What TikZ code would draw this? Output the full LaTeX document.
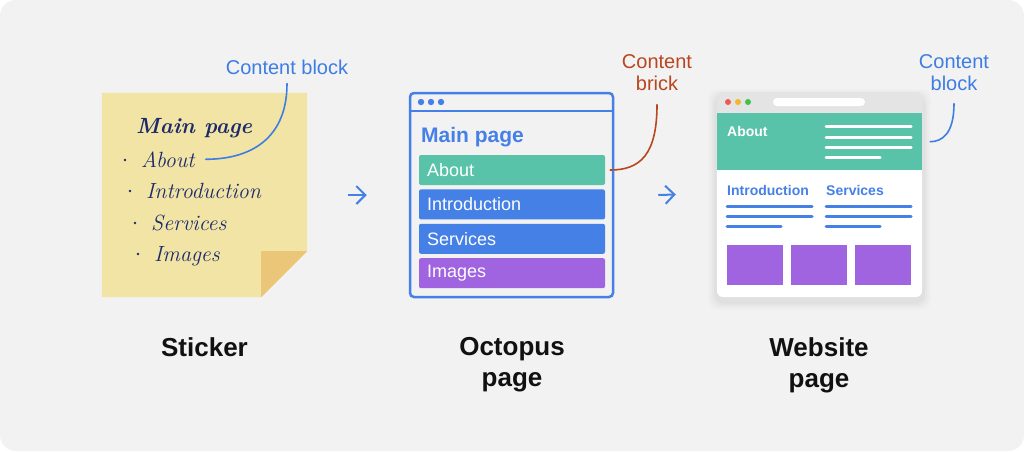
\documentclass[tikz,border=0pt]{standalone}
\usepackage{fontspec}
\setsansfont{Liberation Sans}
\usetikzlibrary{positioning,arrows.meta,calc}
\usepackage{xcolor}
\definecolor{bgGray}{HTML}{F2F2F2}
\definecolor{stickY}{HTML}{F1E4A4}
\definecolor{foldY}{HTML}{ECC678}
\definecolor{ink}{HTML}{1C2A6C}
\definecolor{linkBlue}{HTML}{3E7DE3}
\definecolor{brickRed}{HTML}{B8461E}
\definecolor{aboutTeal}{HTML}{58C3A9}
\definecolor{secBlue}{HTML}{4580E6}
\definecolor{imgPurple}{HTML}{A064E0}
\definecolor{barGray}{HTML}{E4E4E4}
\definecolor{capInk}{HTML}{111111}
\definecolor{dotRed}{HTML}{EE5A52}
\definecolor{dotYellow}{HTML}{F2B52E}
\definecolor{dotGreen}{HTML}{3EC24B}
\newcommand{\setfs}[2]{\fontsize{#1}{#2}\selectfont}

\begin{document}
\begin{tikzpicture}[x=1pt, y=-1pt,
  hand/.style={font=\itshape\setfs{22}{22}, text=ink, inner sep=0pt},
  callout/.style={font=\sffamily\setfs{20}{22}, align=center, inner sep=0pt},
  curl/.style={line width=1.6pt, line cap=round},
  flow/.style={-{Straight Barb[length=9pt,width=18pt,line width=2pt]}, line width=2pt, color=secBlue},
  brick/.style={rounded corners=2pt, minimum width=186pt, minimum height=30pt, text width=170pt,
                inner xsep=8pt, align=left, font=\sffamily\setfs{18}{18}, text=white},
  webtxt/.style={font=\sffamily\bfseries\setfs{14}{14}, inner sep=0pt, anchor=base west},
  wline/.style={line width=3pt, line cap=round},
  caption/.style={font=\sffamily\bfseries\setfs{26}{31}, text=capInk, align=center, inner sep=0pt, anchor=north}
]
\useasboundingbox (0,0) rectangle (1024,451);
\fill[white] (0,0) rectangle (1024,451);
\fill[bgGray, rounded corners=16pt] (0,0) rectangle (1024,451);

% sticker
\node[minimum width=205pt, minimum height=204pt, inner sep=0pt] (sticker) at (204.5,195) {};
\fill[stickY] (sticker.north west) -- (sticker.north east) -- ([yshift=46pt]sticker.south east)
  -- ([xshift=-46pt]sticker.south east) -- (sticker.south west) -- cycle;
\fill[foldY] ([yshift=46pt]sticker.south east) -- ([xshift=-46pt,yshift=46pt]sticker.south east)
  -- ([xshift=-46pt]sticker.south east) -- cycle;
\node[hand, font=\bfseries\itshape\setfs{22}{22}, anchor=base west] (hTitle) at (136,133) {Main page};
\foreach \txt/\bx/\by/\nm in {About/141/167/hAbout, Introduction/146/198/hIntro,
                              Services/151/230/hServ, Images/154/261/hImg} {
  \node[hand, anchor=base west] (\nm) at (\bx,\by) {\txt};
  \fill[ink] ([xshift=-16pt,yshift=7pt]\nm.base west) circle (1.4pt);
}
\node[callout, text=linkBlue] (cblock1) at (287,67) {Content block};
\draw[curl, linkBlue] ([yshift=-9pt]cblock1.south) .. controls +(0,55) and +(45,0) .. ([xshift=11pt]hAbout.east);

% octopus page
\node[draw=secBlue, line width=2.5pt, rounded corners=4pt, minimum width=203pt, minimum height=204pt,
      inner sep=0pt] (octo) at (511.5,195) {};
\draw[secBlue, line width=2.5pt] (octo.north west |- 0,111) -- (octo.north east |- 0,111);
\foreach \x in {421,431,441} \fill[secBlue] (\x,102) circle (3.2pt);
\node[font=\sffamily\bfseries\setfs{21}{21}, text=secBlue, inner sep=0pt, anchor=base west] (oTitle) at (421,142) {Main page};
\node[brick, fill=aboutTeal] (about) at (512,170) {About};
\node[brick, fill=secBlue, below=4pt of about] (intro) {Introduction};
\node[brick, fill=secBlue, below=4pt of intro] (serv) {Services};
\node[brick, fill=imgPurple, below=4pt of serv] (imgs) {Images};
\node[callout, text=brickRed, anchor=north] (cbrick) at (657,54) {Content\\brick};
\draw[curl, brickRed] ([yshift=-14pt]cbrick.south) .. controls +(0,50) and +(30,0) .. ([xshift=5pt]about.east);

% website page
\foreach \s/\o in {9/0.012,7/0.015,5/0.018,3/0.022}
  \fill[black, opacity=\o, rounded corners=10pt] (717-\s,92-\s+6) rectangle (922+\s,297+\s+4);
\node[fill=white, rounded corners=6pt, minimum width=205pt, minimum height=205pt, inner sep=0pt] (web) at (819.5,194.5) {};
\fill[barGray, rounded corners=6pt] (web.north west) rectangle ([yshift=-27pt]web.north east);
\foreach \x/\c in {728/dotRed,738/dotYellow,748/dotGreen} \fill[\c] (\x,102) circle (3pt);
\fill[white, rounded corners=4pt] (773,98) rectangle (865,106);
\node[fill=aboutTeal, minimum width=205pt, minimum height=57pt, inner sep=0pt, anchor=north] (whead) at (819.5,113) {};
\node[webtxt, text=white] (wAbout) at (727,136) {About};
\foreach \y in {126,137,147} \draw[wline, white] (826,\y) -- (911,\y);
\draw[wline, white] (826,157) -- (880,157);
\node[webtxt, text=secBlue] (wIntro) at (727,195) {Introduction};
\node[webtxt, text=secBlue] (wServ) at (826,195) {Services};
\foreach \x in {727,826} {
  \draw[wline, secBlue] (\x,206) -- (\x+85,206);
  \draw[wline, secBlue] (\x,216) -- (\x+85,216);
  \draw[wline, secBlue] (\x,226) -- (\x+54,226);
}
\foreach \x in {727,791,855} \fill[imgPurple] (\x,245) rectangle ++(56,40);
\node[callout, text=linkBlue, anchor=north] (cblock2) at (954,54) {Content\\block};
\draw[curl, linkBlue] ([yshift=-13pt]cblock2.south) .. controls +(0,30) and +(12,0) .. ([xshift=8pt]whead.east);

% arrows
\draw[flow] ([xshift=41pt]sticker.east) -- ([xshift=-42pt]octo.west);
\draw[flow] ([xshift=44pt]octo.east) -- ([xshift=-41pt]web.west);

% captions
\node[caption] (capSticker) at (204.5,337) {Sticker};
\node[caption] (capOcto) at (512,337) {Octopus\\page};
\node[caption] (capWeb) at (819,337) {Website\\page};
\end{tikzpicture}
\end{document}
